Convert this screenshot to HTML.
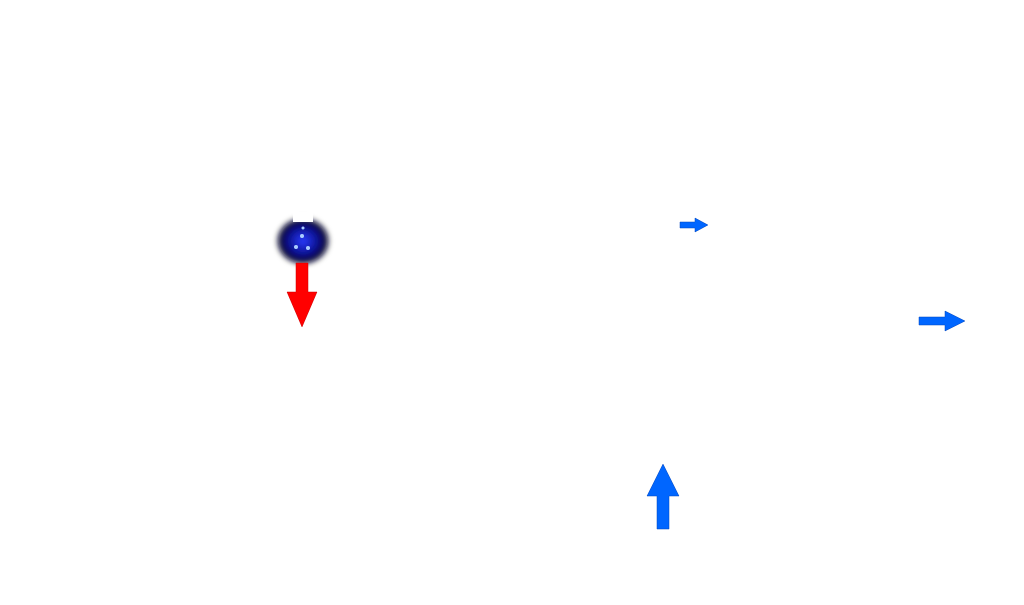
<!DOCTYPE html>
<html><head><style>body{margin:0;width:1024px;height:600px;background:#fff;overflow:hidden}</style></head>
<body>
<svg width="1024" height="600" viewBox="0 0 1024 600">
<defs>
<radialGradient id="g" cx="50%" cy="50%" r="50%">
<stop offset="0" stop-color="#2a3cff"/><stop offset="0.55" stop-color="#0a0f8a"/><stop offset="0.8" stop-color="#10103a"/><stop offset="1" stop-color="#000" stop-opacity="0"/>
</radialGradient>
<filter id="b"><feGaussianBlur stdDeviation="2.5"/></filter>
</defs>
<ellipse cx="303" cy="241" rx="28" ry="25" fill="url(#g)" filter="url(#b)"/>
<rect x="293" y="212" width="20" height="10" fill="#fff"/>
<circle cx="302" cy="236" r="2" fill="#aaccff"/><circle cx="296" cy="247" r="2" fill="#aaccff"/><circle cx="308" cy="248" r="2" fill="#aaccff"/><circle cx="303" cy="228" r="1.5" fill="#aaccff"/>
<path d="M296 263 H308 V292 H317 L302 327 L287 292 H296 Z" fill="#ff0000" stroke="#c00" stroke-width="0.5"/>
<path d="M657 529 H669 V496 H679 L663 464 L647 496 H657 Z" fill="#0066ff" stroke="#0044bb" stroke-width="0.5"/>
<path d="M680 222 H695 V218 L708 225 L695 232 V228 H680 Z" fill="#0066ff" stroke="#0044bb" stroke-width="0.5"/>
<path d="M919 317 H945 V311 L965 321 L945 331 V325 H919 Z" fill="#0066ff" stroke="#0044bb" stroke-width="0.5"/>
</svg>
</body></html>
